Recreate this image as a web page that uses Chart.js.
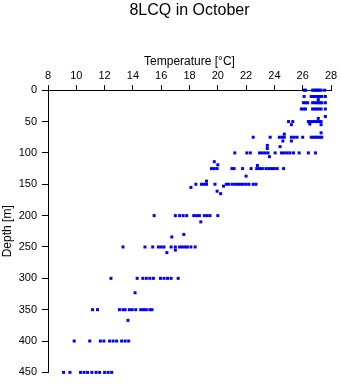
<!DOCTYPE html>
<html><head><meta charset="utf-8">
<script src="https://cdn.jsdelivr.net/npm/chart.js@4/dist/chart.umd.min.js"></script>
<style>html,body{margin:0;padding:0;background:#fff}canvas{display:block}</style>
</head><body>
<canvas id="c" width="341" height="384" style="width:341px;height:384px"></canvas>
<script>
// Temperature (°C) readings at the main depth levels (m)
const t000 = [26.1, 26.2, 26.7, 26.8, 26.9, 27.0, 27.1, 27.2, 27.3, 27.55];
const t010 = [26.1, 26.6, 26.75, 26.9, 27.0, 27.1, 27.2, 27.35, 27.6];
const t020 = [26.05, 26.2, 26.35, 26.7, 26.85, 27.0, 27.1, 27.25, 27.35, 27.6];
const t030 = [25.9, 26.05, 26.2, 26.7, 26.85, 27.0, 27.15, 27.3, 27.6];
const t050 = [25.0, 25.3, 26.4, 26.55, 26.7, 26.85, 27.0, 27.15, 27.3];
const t075 = [22.5, 23.7, 24.35, 24.55, 24.7, 25.2, 25.4, 25.6, 26.0, 26.6, 26.75, 26.9, 27.05, 27.2, 27.35];
const t100 = [21.2, 22.05, 22.3, 22.95, 23.15, 23.35, 23.55, 24.05, 24.5, 24.7, 24.9, 25.1, 25.35, 25.75, 26.4, 26.9];
const t125 = [19.55, 19.75, 19.95, 21.0, 21.15, 21.75, 22.35, 22.75, 22.95, 23.15, 23.4, 23.6, 23.8, 24.0, 24.2, 24.65];
const t150 = [18.45, 18.85, 19.0, 19.2, 19.8, 20.6, 20.75, 21.0, 21.2, 21.4, 21.6, 21.8, 22.0, 22.2, 22.5, 22.7];
const t200 = [15.5, 17.0, 17.3, 17.55, 17.8, 18.3, 18.5, 18.7, 19.05, 19.25, 19.45, 20.0];
const t250 = [13.3, 14.85, 15.4, 15.8, 16.0, 16.2, 16.7, 17.0, 17.3, 17.5, 17.7, 17.85, 18.1, 18.4];
const t300 = [12.45, 14.3, 14.7, 14.95, 15.2, 15.45, 15.95, 16.2, 16.45, 16.7, 17.2];
const t350 = [11.15, 11.5, 13.05, 13.3, 13.45, 13.75, 13.95, 14.2, 14.55, 14.75, 14.95, 15.2, 15.35];
const t400 = [9.85, 10.95, 11.7, 11.95, 12.35, 12.6, 12.85, 13.2, 13.45, 13.7];
const t450 = [9.1, 9.55, 10.3, 10.55, 10.8, 11.1, 11.4, 11.65, 12.0, 12.25, 12.5];

const levelDepths = [0, 10, 20, 30, 50, 75, 100, 125, 150, 200, 250, 300, 350, 400, 450];
const levelTemps = [t000, t010, t020, t030, t050, t075, t100, t125, t150, t200, t250, t300, t350, t400, t450];

// Scattered readings at other depths
const extraDepths = [15, 42, 45, 54, 55, 55, 68, 70, 81, 81, 88, 90, 93, 106, 114, 119, 120, 137, 145, 153, 155, 161, 165, 210, 230, 234, 255, 259, 323, 367];
const extraTemps  = [27.1, 27.6, 27.1, 26.5, 25.2, 27.3, 27.3, 24.7, 25.2, 24.6, 23.5, 24.4, 23.5, 23.65, 19.75, 20.0, 22.8, 22.0, 19.2, 20.4, 18.1, 19.95, 20.2, 18.8, 17.6, 16.75, 17.0, 16.4, 14.15, 13.65];

const xTickStep = 2, yTickStep = 50;

const points = [];
levelDepths.forEach((d, i) => levelTemps[i].forEach(t => points.push({x: t, y: d})));
extraDepths.forEach((d, i) => points.push({x: extraTemps[i], y: d}));

const FONT = "'Liberation Sans', Arial, sans-serif";
Chart.defaults.color = '#000';
Chart.defaults.font.family = FONT;

new Chart(document.getElementById('c'), {
  type: 'scatter',
  data: { datasets: [{
    data: points,
    pointStyle: 'rect',
    pointRadius: 2.12,
    pointHoverRadius: 2.12,
    pointBackgroundColor: '#0000ff',
    pointBorderWidth: 0,
    clip: false
  }]},
  options: {
    responsive: false,
    animation: false,
    devicePixelRatio: 1,
    layout: { padding: { left: 0, right: 10, top: 0, bottom: 9 } },
    plugins: {
      legend: { display: false },
      tooltip: { enabled: false },
      title: {
        display: true,
        fullSize: false,
        text: '8LCQ in October',
        color: '#000',
        font: { family: FONT, size: 16, weight: 'normal' },
        padding: { top: 1, bottom: 30 }
      }
    },
    scales: {
      x: {
        type: 'linear',
        position: 'top',
        min: 8, max: 28,
        afterFit: s => { s.height = 40; },
        ticks: { stepSize: xTickStep, color: '#000', font: { size: 11 }, padding: 3, maxRotation: 0 },
        grid: { drawOnChartArea: false, drawTicks: true, tickLength: 5, color: '#000' },
        border: { display: true, color: '#000', width: 1 },
        title: { display: true, text: 'Temperature [°C]', color: '#000', font: { size: 12 }, padding: { top: 4, bottom: 0 } }
      },
      y: {
        type: 'linear',
        reverse: true,
        min: 0, max: 450,
        afterFit: s => { s.width = 48; },
        ticks: { stepSize: yTickStep, color: '#000', font: { size: 11 }, padding: 5 },
        grid: { drawOnChartArea: false, drawTicks: true, tickLength: 6, color: '#000' },
        border: { display: true, color: '#000', width: 1 },
        title: { display: true, text: 'Depth [m]', color: '#000', font: { size: 12 }, padding: { top: 0, bottom: 0 } }
      }
    }
  }
});
</script>
</body></html>
